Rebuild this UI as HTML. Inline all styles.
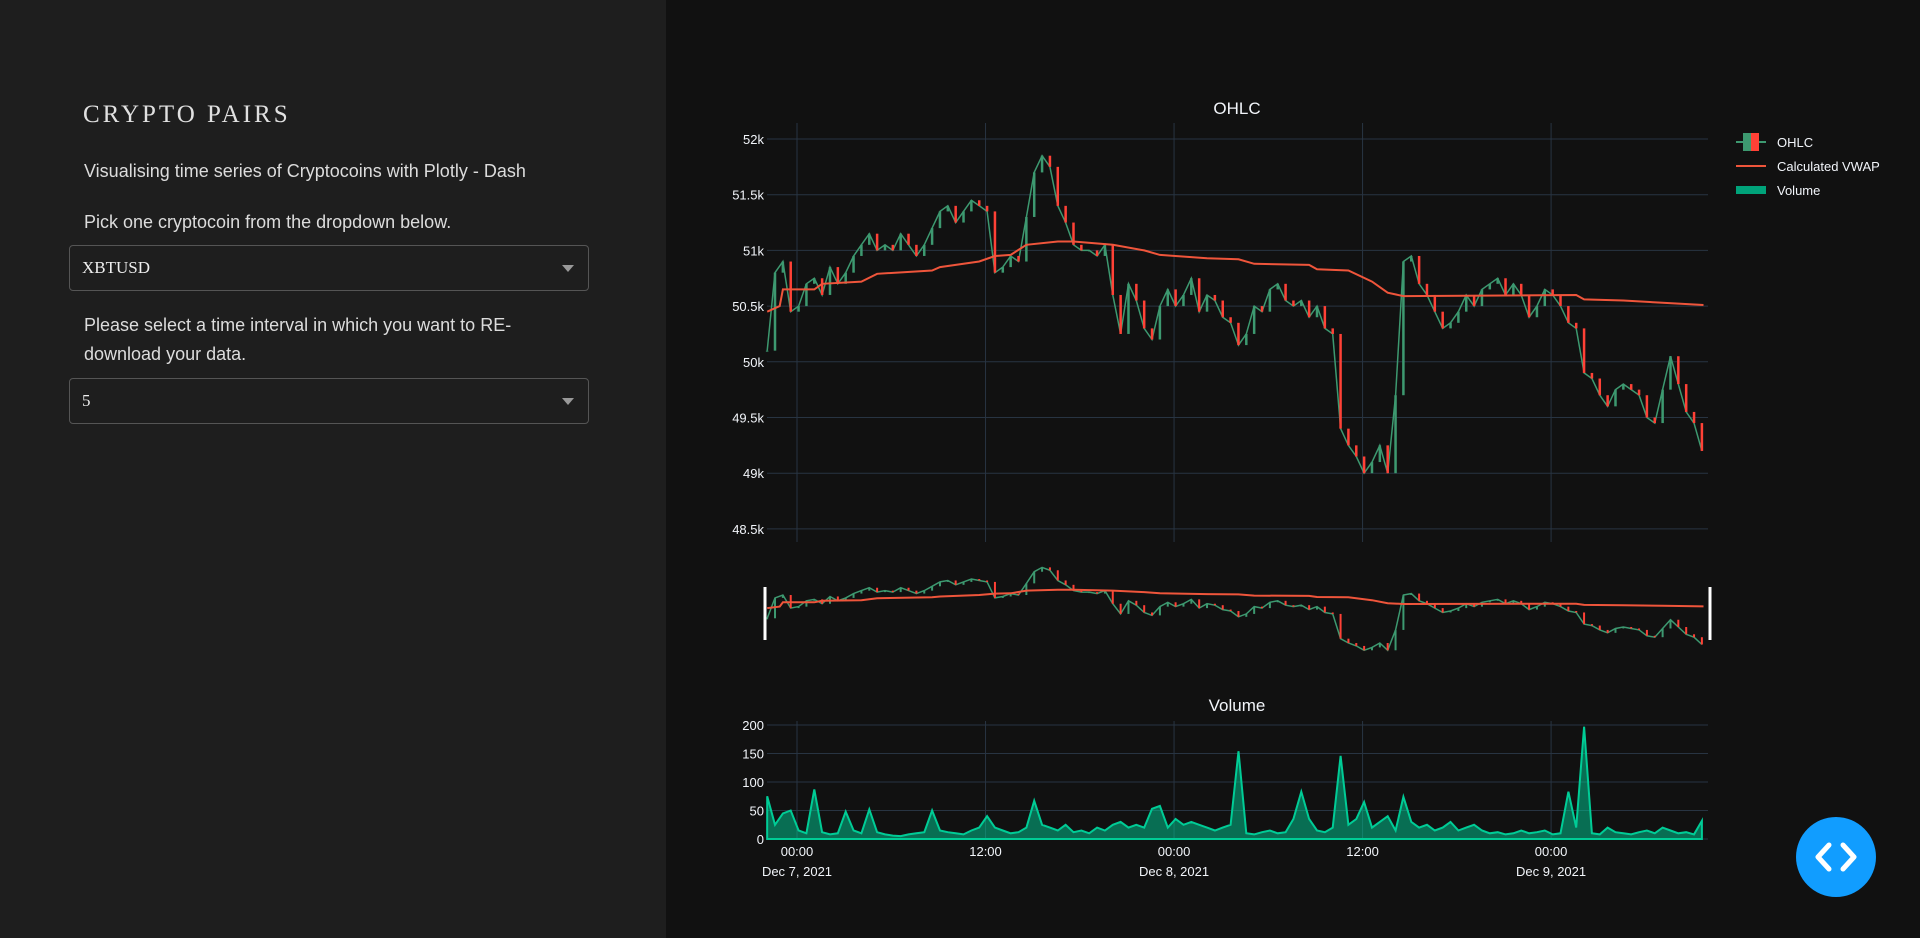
<!DOCTYPE html>
<html><head><meta charset="utf-8">
<style>
html,body{margin:0;padding:0;width:1920px;height:938px;overflow:hidden;background:#111111;font-family:"Liberation Sans",sans-serif;}
#side{position:absolute;left:0;top:0;width:666px;height:938px;background:#1e1e1e;color:#d8d8d8;}
#side h1{position:absolute;left:83px;top:101px;margin:0;font-family:"Liberation Serif",serif;font-weight:normal;font-size:25px;letter-spacing:3px;color:#e0e0e0;}
.p{position:absolute;left:84px;font-size:18px;color:#dcdcdc;line-height:29px;white-space:nowrap;}
.dd{position:absolute;left:69px;width:518px;height:44px;border:1px solid #555;border-radius:4px;background:#1e1e1e;}
.dd span{position:absolute;left:12px;top:12px;font-family:"Liberation Serif",serif;font-size:17px;color:#eee;}
.dd i{position:absolute;right:14px;top:19px;width:0;height:0;border-left:6px solid transparent;border-right:6px solid transparent;border-top:7px solid #999;}
#chart{position:absolute;left:0;top:0;}
</style></head><body>
<div id="side">
<h1>CRYPTO PAIRS</h1>
<div class="p" style="top:157px">Visualising time series of Cryptocoins with Plotly - Dash</div>
<div class="p" style="top:208px">Pick one cryptocoin from the dropdown below.</div>
<div class="dd" style="top:245px"><span>XBTUSD</span><i></i></div>
<div class="p" style="top:311px">Please select a time interval in which you want to RE-<br>download your data.</div>
<div class="dd" style="top:378px"><span>5</span><i></i></div>
</div>
<svg id="chart" width="1920" height="938" xmlns="http://www.w3.org/2000/svg"></svg>
<script>
const priceCloses=[50100,50800,50900,50450,50500,50700,50750,50600,50850,50700,50800,50950,51050,51150,51000,51050,51000,51150,51050,50950,51050,51200,51350,51400,51250,51350,51450,51400,51350,50800,50850,50950,50900,51300,51700,51850,51750,51400,51250,51050,51000,51000,50950,51050,50600,50250,50700,50550,50300,50200,50500,50650,50500,50600,50750,50450,50600,50550,50400,50350,50150,50250,50500,50450,50650,50700,50550,50500,50550,50400,50500,50300,50250,49400,49250,49150,49000,49100,49250,49000,49700,50900,50950,50700,50600,50450,50300,50350,50450,50600,50500,50650,50700,50750,50600,50700,50600,50400,50500,50650,50600,50500,50350,50300,49900,49850,49700,49600,49750,49800,49750,49700,49500,49450,49750,50050,49800,49550,49450,49200];
const volumes=[75,25,45,50,15,10,87,12,8,10,48,15,10,52,12,8,6,5,8,10,12,50,15,12,10,8,15,20,40,20,15,10,12,20,67,25,20,15,25,12,15,10,20,15,25,30,20,25,20,53,58,20,35,25,30,25,20,15,20,25,154,10,8,12,15,10,12,35,83,35,15,12,20,146,25,35,65,20,30,40,15,74,30,20,25,15,20,30,15,20,25,15,10,12,8,10,15,10,12,15,8,10,83,20,197,10,8,20,12,10,8,12,15,10,20,15,10,12,8,32];
const vwapHours=[-1.9,-1.1,-0.9,1.1,1.6,4.1,5.1,8.6,9.1,11.6,12.6,13.6,14.6,16.6,17.6,20.1,22.1,23.1,26.1,28.1,29.1,32.6,33.1,35.1,36.6,37.6,38.6,49.6,50.1,52.6,55.1,57.7];
const vwapValues=[50450,50500,50650,50650,50700,50720,50790,50820,50850,50900,50950,50960,51050,51080,51080,51050,51000,50960,50930,50920,50880,50870,50830,50820,50720,50620,50590,50600,50560,50550,50530,50510];
const priceTicks=[48500,49000,49500,50000,50500,51000,51500,52000];
const priceTickLabels=["48.5k","49k","49.5k","50k","50.5k","51k","51.5k","52k"];
const volTicks=[0,50,100,150,200];
const timeTicks=[0,12,24,36,48];
const timeTickLabels=["00:00","12:00","00:00","12:00","00:00"];
const dateLabels=["Dec 7, 2021","","Dec 8, 2021","","Dec 9, 2021"];
const startHour=-1.9, stepHour=0.5;

const NS="http://www.w3.org/2000/svg";
const svg=document.getElementById('chart');
function mk(tag,attrs,parent){const e=document.createElementNS(NS,tag);for(const k in attrs)e.setAttribute(k,attrs[k]);(parent||svg).appendChild(e);return e;}
const X=h=>797+h*15.71;
const Y=p=>139+(52000-p)*0.1114;
const YS=p=>563+(52000-p)*0.0291;
const YV=v=>839-v*0.57;
const tc="#f2f5fa", grid="#283442";

let t=mk('text',{x:1237,y:114,'text-anchor':'middle','font-size':17,fill:tc});t.textContent='OHLC';


t=mk('text',{x:1237,y:711,'text-anchor':'middle','font-size':17,fill:tc});t.textContent='Volume';



timeTicks.forEach((h,i)=>{
 let l=mk('line',{x1:X(h),x2:X(h),y1:123,y2:542,stroke:grid,'stroke-width':1});
 
 
 l=mk('line',{x1:X(h),x2:X(h),y1:721,y2:839,stroke:grid,'stroke-width':1});
 
 
 let a=mk('text',{x:X(h),y:856,'text-anchor':'middle','font-size':13,fill:tc});a.textContent=timeTickLabels[i];
 
 
 if(dateLabels[i]){let b=mk('text',{x:X(h),y:876,'text-anchor':'middle','font-size':13,fill:tc});b.textContent=dateLabels[i];
 
 }
});
priceTicks.forEach((p,i)=>{
 let l=mk('line',{x1:767,x2:1708,y1:Y(p),y2:Y(p),stroke:grid,'stroke-width':1});
 
 
 let a=mk('text',{x:764,y:Y(p)+5,'text-anchor':'end','font-size':13,fill:tc});a.textContent=priceTickLabels[i];
 
 
});
volTicks.forEach(v=>{
 let l=mk('line',{x1:767,x2:1708,y1:YV(v),y2:YV(v),stroke:grid,'stroke-width':1});
 
 
 let a=mk('text',{x:764,y:YV(v)+5,'text-anchor':'end','font-size':13,fill:tc});a.textContent=String(v);
 
 
});

function candles(yf,g,w,sw){
 let d=priceCloses.map((c,i)=>(i?'L':'M')+X(startHour+i*stepHour).toFixed(1)+','+yf(c).toFixed(1)).join(' ');
 let ln=mk('path',{d:d,fill:'none',stroke:'#3D9970','stroke-width':sw},g);
 
 
 priceCloses.forEach((c,i)=>{
  const o=i?priceCloses[i-1]:c;
  const x=X(startHour+i*stepHour);
  const up=c>=o;
  const col=up?'#3D9970':'#FF4136';
  const y1=yf(Math.max(o,c)), y2=yf(Math.min(o,c));
  let r=mk('rect',{x:x-w/2,y:y1,width:w,height:Math.max(1,y2-y1),fill:col},g);
  
  
 });
}
function vwap(yf,g,sw){
 let d=vwapHours.map((h,i)=>(i?'L':'M')+X(h).toFixed(1)+','+yf(vwapValues[i]).toFixed(1)).join(' ');
 let p=mk('path',{d:d,fill:'none',stroke:'#EF553B','stroke-width':sw},g);
 
 
}
let g1=mk('g',{});


candles(Y,g1,2.5,1.5);vwap(Y,g1,2);
let g2=mk('g',{});


candles(YS,g2,2,1.5);vwap(YS,g2,2);
[765,1710].forEach(x=>{let h=mk('rect',{x:x-1.5,y:587,width:3,height:53,fill:'#fff'},g2);
 
 });

let vd='M'+X(startHour)+','+YV(0)+' '+volumes.map((v,i)=>'L'+X(startHour+i*stepHour).toFixed(1)+','+YV(v).toFixed(1)).join(' ')+' L'+X(startHour+(volumes.length-1)*stepHour)+','+YV(0)+' Z';
let va=mk('path',{d:vd,fill:'rgba(0,204,150,0.5)',stroke:'#00CC96','stroke-width':2});



let lg=mk('g',{});


mk('line',{x1:1736,x2:1766,y1:142,y2:142,stroke:'#3D9970','stroke-width':2},lg);
mk('rect',{x:1743,y:133,width:8,height:18,fill:'#3D9970'},lg);
mk('rect',{x:1751,y:133,width:8,height:18,fill:'#FF4136'},lg);
mk('line',{x1:1736,x2:1766,y1:166,y2:166,stroke:'#EF553B','stroke-width':2},lg);
mk('rect',{x:1736,y:186,width:30,height:8,fill:'#00A37A'},lg);
[['OHLC',147],['Calculated VWAP',171],['Volume',195]].forEach(a=>{let e=mk('text',{x:1777,y:a[1],'font-size':13,fill:tc},lg);e.textContent=a[0];
 
 });

let bg=mk('g',{});


mk('circle',{cx:1836,cy:857,r:40,fill:'#119DFF'},bg);
mk('path',{d:'M1829,845 L1818,857 L1829,869 M1843,845 L1854,857 L1843,869',fill:'none',stroke:'#fff','stroke-width':5,'stroke-linecap':'round','stroke-linejoin':'round'},bg);
</script>
</body></html>
